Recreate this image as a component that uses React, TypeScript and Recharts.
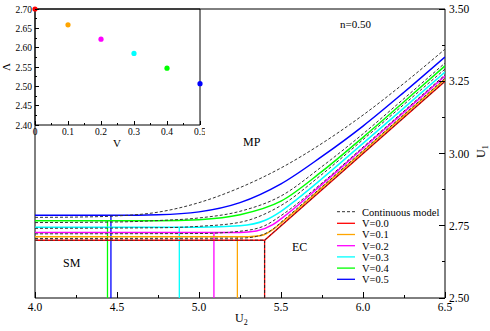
import { ComposedChart, Line, XAxis, YAxis, ReferenceArea, ScatterChart, Scatter } from "recharts";

// series names and colours
const vLabels = ["V=0.0", "V=0.1", "V=0.2", "V=0.3", "V=0.4", "V=0.5"];
const vColors = ["#ff0000", "#ffa500", "#ff00ff", "#00ffff", "#00ff00", "#0000ff"];

// lattice model curves, [U2, U1]
const solidV00 = [[4.0, 2.70], [5.4, 2.70], [6.5, 3.25]];
const solidV01 = [[4.0, 2.712], [5.3, 2.712], [5.38, 2.716], [5.45, 2.737], [5.5, 2.759], [5.75, 2.882], [6.0, 3.007], [6.25, 3.132], [6.5, 3.257]];
const solidV02 = [[4.0, 2.727], [5.25, 2.727], [5.35, 2.732], [5.45, 2.754], [5.5, 2.774], [5.75, 2.893], [6.0, 3.018], [6.25, 3.143], [6.5, 3.268]];
const solidV03 = [[4.0, 2.745], [5.0, 2.745], [5.25, 2.75], [5.4, 2.768], [5.5, 2.80], [5.6, 2.843], [5.75, 2.913], [6.0, 3.035], [6.25, 3.158], [6.5, 3.282]];
const solidV04 = [[4.0, 2.767], [4.75, 2.767], [5.0, 2.771], [5.25, 2.788], [5.5, 2.835], [5.75, 2.938], [6.0, 3.056], [6.25, 3.179], [6.5, 3.303]];
const solidV05 = [[4.0, 2.786], [4.5, 2.786], [4.75, 2.788], [5.0, 2.798], [5.25, 2.83], [5.5, 2.895], [5.75, 2.99], [6.0, 3.095], [6.25, 3.212], [6.5, 3.334]];

// continuous model curves, [U2, U1]
const contV00 = [[4.0, 2.70], [5.4, 2.70], [6.5, 3.25]];
const contV01 = [[4.0, 2.706], [5.25, 2.707], [5.35, 2.713], [5.45, 2.738], [5.5, 2.762], [5.75, 2.885], [6.0, 3.01], [6.25, 3.135], [6.5, 3.26]];
const contV02 = [[4.0, 2.722], [5.0, 2.723], [5.25, 2.731], [5.4, 2.75], [5.5, 2.785], [5.75, 2.898], [6.0, 3.022], [6.25, 3.147], [6.5, 3.272]];
const contV03 = [[4.0, 2.741], [4.75, 2.743], [5.0, 2.748], [5.25, 2.762], [5.5, 2.82], [5.75, 2.928], [6.0, 3.048], [6.25, 3.17], [6.5, 3.292]];
const contV04 = [[4.0, 2.761], [4.5, 2.763], [4.75, 2.768], [5.0, 2.777], [5.25, 2.80], [5.5, 2.853], [5.75, 2.955], [6.0, 3.068], [6.25, 3.19], [6.5, 3.313]];
const contV05 = [[4.0, 2.779], [4.25, 2.78], [4.5, 2.784], [4.75, 2.797], [5.0, 2.83], [5.25, 2.882], [5.5, 2.95], [5.75, 3.035], [6.0, 3.133], [6.25, 3.243], [6.5, 3.361]];

const solidCurves = [solidV00, solidV01, solidV02, solidV03, solidV04, solidV05];
const contCurves = [contV00, contV01, contV02, contV03, contV04, contV05];

// vertical SM boundaries: U2 position and U1 height
const vertU2 = [5.4, 5.234, 5.091, 4.88, 4.442, 4.463];
const flatU1 = [2.70, 2.712, 2.727, 2.745, 2.767, 2.786];

// inset: Lambda vs V
const insetV = [0, 0.1, 0.2, 0.3, 0.4, 0.5];
const insetLambda = [2.70, 2.659, 2.622, 2.585, 2.547, 2.507];

// ticks
const xMajor = [4.0, 4.5, 5.0, 5.5, 6.0, 6.5];
const xMinor = [4.25, 4.75, 5.25, 5.75, 6.25];
const yMajor = [2.5, 2.75, 3.0, 3.25, 3.5];
const yMinor = [2.625, 2.875, 3.125, 3.375];
const inXMajor = [0, 0.1, 0.2, 0.3, 0.4, 0.5];
const inXMinor = [0.05, 0.15, 0.25, 0.35, 0.45];
const inYMajor = [2.40, 2.45, 2.50, 2.55, 2.60, 2.65, 2.70];
const inYMinor = [2.425, 2.475, 2.525, 2.575, 2.625, 2.675];

const FONT = "'Liberation Serif', 'Times New Roman', serif";
const serif = { fontFamily: FONT };

const toPts = (arr: number[][]) => arr.map(([u2, u1]) => ({ u2, u1 }));

const MainXTick = (props: any) => {
  const { x, y, payload } = props;
  const major = xMajor.includes(payload.value);
  return (
    <g>
      <line x1={x} x2={x} y1={y} y2={y - (major ? 6 : 3)} stroke="#000" strokeWidth={1} shapeRendering="crispEdges" />
      {major && (
        <text x={x} y={y + 13} textAnchor="middle" fontSize={11.5} style={serif} fill="#000">
          {payload.value.toFixed(1)}
        </text>
      )}
    </g>
  );
};

const MainYTick = (props: any) => {
  const { x, y, payload } = props;
  const major = yMajor.includes(payload.value);
  return (
    <g>
      <line x1={x} x2={x - (major ? 6 : 3)} y1={y} y2={y} stroke="#000" strokeWidth={1} shapeRendering="crispEdges" />
      {major && (
        <text x={x + 4} y={y + 4} textAnchor="start" fontSize={11.5} style={serif} fill="#000">
          {payload.value.toFixed(2)}
        </text>
      )}
    </g>
  );
};

const InXTick = (props: any) => {
  const { x, y, payload, top } = props;
  const major = inXMajor.includes(payload.value);
  const len = major ? 4 : 2;
  return (
    <g>
      <line x1={x} x2={x} y1={y} y2={top ? y + len : y - len} stroke="#000" strokeWidth={1} shapeRendering="crispEdges" />
      {major && !top && (
        <text x={x} y={y + 10} textAnchor="middle" fontSize={9.5} style={serif} fill="#000">
          {payload.value === 0 ? "0" : payload.value.toFixed(1)}
        </text>
      )}
    </g>
  );
};

const InYTick = (props: any) => {
  const { x, y, payload, right } = props;
  const major = inYMajor.includes(payload.value);
  const len = major ? 4 : 2;
  return (
    <g>
      <line x1={x} x2={right ? x - len : x + len} y1={y} y2={y} stroke="#000" strokeWidth={1} shapeRendering="crispEdges" />
      {major && !right && (
        <text x={x - 3} y={y + 3.5} textAnchor="end" fontSize={9.5} style={serif} fill="#000">
          {payload.value.toFixed(2)}
        </text>
      )}
    </g>
  );
};

export default function App() {
  return (
    <div style={{ position: "absolute", left: 0, top: 0, width: 490, height: 331, background: "#fff", fontFamily: FONT }}>
      {/* main chart */}
      <div style={{ position: "absolute", left: 0, top: 0 }}>
        <ComposedChart width={490} height={331} margin={{ top: 9, right: 0, left: 35, bottom: 0 }}>
          <XAxis
            dataKey="u2"
            type="number"
            domain={[4, 6.5]}
            ticks={[...xMajor, ...xMinor]}
            interval={0}
            height={33}
            tickSize={0}
            tickMargin={0}
            axisLine={false}
            tickLine={false}
            tick={<MainXTick />}
            allowDataOverflow
          />
          <YAxis
            dataKey="u1"
            type="number"
            orientation="right"
            domain={[2.5, 3.5]}
            ticks={[...yMajor, ...yMinor]}
            interval={0}
            width={45}
            tickSize={0}
            tickMargin={0}
            axisLine={false}
            tickLine={false}
            tick={<MainYTick />}
            allowDataOverflow
          />
          <ReferenceArea x1={4} x2={6.5} y1={2.5} y2={3.5} fill="none" stroke="#000" strokeWidth={1} fillOpacity={0} />
          {vertU2.map((u2, i) => (
            <Line
              key={"vert" + i}
              data={[{ u2, u1: 2.5 }, { u2, u1: flatU1[i] }]}
              dataKey="u1"
              type="linear"
              stroke={vColors[i]}
              strokeWidth={1.3}
              dot={false}
              isAnimationActive={false}
            />
          ))}
          <Line
            data={[{ u2: vertU2[0], u1: 2.5 }, { u2: vertU2[0], u1: flatU1[0] }]}
            dataKey="u1"
            type="linear"
            stroke="#222"
            strokeWidth={1}
            strokeDasharray="3 2"
            dot={false}
            isAnimationActive={false}
          />
          {solidCurves.map((c, i) => (
            <Line
              key={"solid" + i}
              data={toPts(c)}
              dataKey="u1"
              type={i === 0 ? "linear" : "monotone"}
              stroke={vColors[i]}
              strokeWidth={1.5}
              dot={false}
              isAnimationActive={false}
            />
          ))}
          {contCurves.map((c, i) => (
            <Line
              key={"cont" + i}
              data={toPts(c)}
              dataKey="u1"
              type={i === 0 ? "linear" : "monotone"}
              stroke="#333"
              strokeWidth={1}
              strokeDasharray="3 2"
              dot={false}
              isAnimationActive={false}
            />
          ))}
        </ComposedChart>
      </div>

      {/* inset */}
      <div style={{ position: "absolute", left: 0, top: 0 }}>
        <ScatterChart width={205} height={150} margin={{ top: 9, right: 5, left: 0, bottom: 0 }}>
          <XAxis
            xAxisId="b"
            dataKey="v"
            type="number"
            domain={[0, 0.5]}
            ticks={[...inXMajor, ...inXMinor]}
            interval={0}
            height={25}
            tickSize={0}
            tickMargin={0}
            axisLine={false}
            tickLine={false}
            tick={<InXTick />}
          />
          <XAxis
            xAxisId="t"
            orientation="top"
            dataKey="v"
            type="number"
            domain={[0, 0.5]}
            ticks={[...inXMajor, ...inXMinor]}
            interval={0}
            height={0}
            tickSize={0}
            tickMargin={0}
            axisLine={false}
            tickLine={false}
            tick={<InXTick top />}
          />
          <YAxis
            yAxisId="l"
            dataKey="lam"
            type="number"
            domain={[2.4, 2.7]}
            ticks={[...inYMajor, ...inYMinor]}
            interval={0}
            width={35}
            tickSize={0}
            tickMargin={0}
            axisLine={false}
            tickLine={false}
            tick={<InYTick />}
          />
          <YAxis
            yAxisId="r"
            orientation="right"
            dataKey="lam"
            type="number"
            domain={[2.4, 2.7]}
            ticks={[...inYMajor, ...inYMinor]}
            interval={0}
            width={0}
            tickSize={0}
            tickMargin={0}
            axisLine={false}
            tickLine={false}
            tick={<InYTick right />}
          />
          <ReferenceArea xAxisId="b" yAxisId="l" x1={0} x2={0.5} y1={2.4} y2={2.7} fill="none" fillOpacity={0} stroke="#000" />
          {insetV.map((v, i) => (
            <Scatter
              key={"pt" + i}
              xAxisId="b"
              yAxisId="l"
              data={[{ v, lam: insetLambda[i] }]}
              fill={vColors[i]}
              isAnimationActive={false}
              shape={(p: any) => <circle cx={p.cx} cy={p.cy} r={2.6} fill={vColors[i]} />}
            />
          ))}
        </ScatterChart>
      </div>

      {/* labels and legend */}
      <svg width={490} height={331} style={{ position: "absolute", left: 0, top: 0, pointerEvents: "none", fontFamily: FONT }}>
        <text x={117} y={147} textAnchor="middle" fontSize={11} style={serif}>V</text>
        <text transform="translate(10,67) rotate(-90)" textAnchor="middle" fontSize={11} style={serif}>Λ</text>
        <text x={340} y={28} fontSize={11} style={serif}>n=0.50</text>
        <text x={243} y={146} fontSize={12} style={serif}>MP</text>
        <text x={63} y={267} fontSize={12} style={serif}>SM</text>
        <text x={292} y={251} fontSize={12} style={serif}>EC</text>
        <text x={235} y={322} fontSize={12} style={serif}>
          U<tspan fontSize={8} dy={3}>2</tspan>
        </text>
        <text transform="translate(485,158) rotate(-90)" fontSize={12} style={serif}>
          U<tspan fontSize={8} dy={3}>1</tspan>
        </text>
        <line x1={337} x2={355} y1={211.7} y2={211.7} stroke="#333" strokeDasharray="3 2" />
        <text x={362} y={215.5} fontSize={10.5} style={serif}>Continuous model</text>
        {vLabels.map((lab, i) => {
          const cy = 223.3 + i * 11.2;
          return (
            <g key={lab}>
              <line x1={337} x2={355} y1={cy} y2={cy} stroke={vColors[i]} strokeWidth={1.3} />
              <text x={362} y={cy + 3.8} fontSize={10.5} style={serif}>{lab}</text>
            </g>
          );
        })}
      </svg>
    </div>
  );
}
